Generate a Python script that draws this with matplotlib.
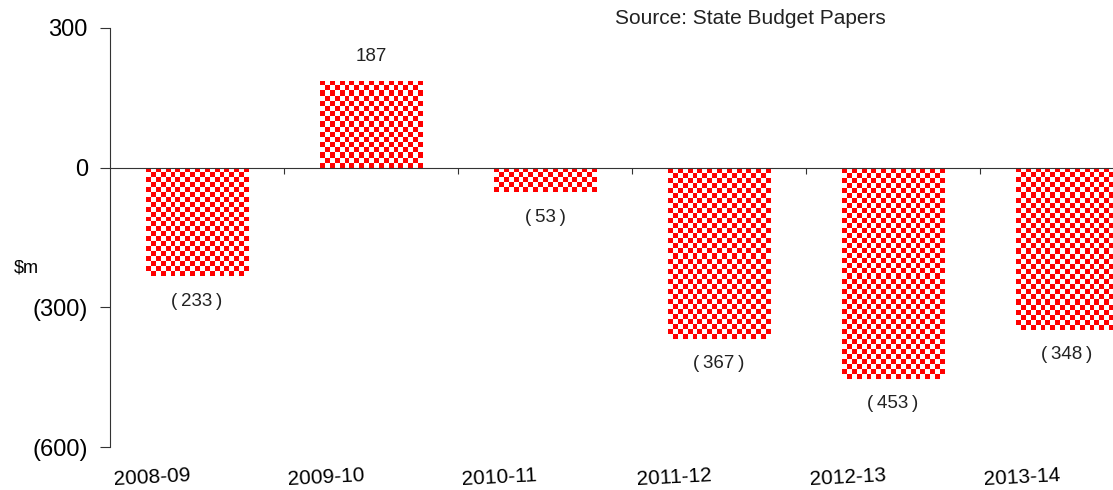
import numpy as np
import matplotlib
matplotlib.use("Agg")
import matplotlib.pyplot as plt
import matplotlib.transforms as mtransforms

plt.rcParams['font.family'] = ['Liberation Sans', 'DejaVu Sans']

# Daten
years = ['2008-09', '2009-10', '2010-11', '2011-12', '2012-13', '2013-14']
values = [-233, 187, -53, -367, -453, -348]
ytick_vals = [300, 0, -300, -600]
ytick_labels = ['300', '0', '(300)', '(600)']

W, H = 1113, 490
fig = plt.figure(figsize=(W / 100, H / 100), dpi=100)
ax = fig.add_axes([110 / W, 43 / H, (W - 110) / W, 419 / H])

x = np.arange(len(years))
bars = ax.bar(x, values, width=0.59, color='none', edgecolor='none')

# Schachbrettmuster in die Balken legen (ca. 5 px pro Feld)
px_x = 174.0
px_y = 419.0 / 900
for b in bars:
    x0, y0 = b.get_x(), b.get_y()
    w, h = b.get_width(), b.get_height()
    nx = max(1, int(round(w * px_x / 5)))
    ny = max(1, int(round(abs(h) * px_y / 5)))
    cb = (np.add.outer(np.arange(ny), np.arange(nx)) % 2).astype(float)
    img = np.ones((ny, nx, 3))
    img[cb == 0] = [1, 0, 0]
    im = ax.imshow(img, extent=[x0, x0 + w, min(y0, y0 + h), max(y0, y0 + h)],
                   aspect='auto', interpolation='nearest', zorder=2)
    im.set_clip_path(b)

ax.set_xlim(-0.5, -0.5 + (W - 110) / px_x)
ax.set_ylim(-600, 300)

for s in ['top', 'right']:
    ax.spines[s].set_visible(False)
ax.spines['bottom'].set_position(('data', 0))
ax.spines['bottom'].set_color('#333333')
ax.spines['bottom'].set_zorder(3)
ax.spines['left'].set_color('#333333')

ax.set_xticks(x[:-1] + 0.5)
ax.set_xticklabels([])
ax.tick_params(axis='x', length=4, direction='out', color='#333333')
ax.set_yticks(ytick_vals)
ax.set_yticklabels(ytick_labels, fontsize=17)
ax.tick_params(axis='y', length=7, pad=9, color='#333333')

# Kategorien unten (etwas nach links versetzt, leicht gedreht)
trans = mtransforms.blended_transform_factory(ax.transData, ax.transAxes)
for xi, lab in zip(x, years):
    ax.text(xi - 0.26, -0.072, lab, transform=trans, ha='center', va='center',
            fontsize=15, rotation=3, rotation_mode='anchor')

# Wertebeschriftungen
for xi, v in zip(x, values):
    txt = str(v) if v >= 0 else '(\u2009%d\u2009)' % abs(v)
    ax.annotate(txt, (xi, v), xytext=(0, 17.5 if v >= 0 else -18),
                textcoords='offset points', ha='center', va='center',
                fontsize=13.5, color='#222222')

fig.text(14 / W, 1 - 268 / H, '$m', fontsize=13, va='center', ha='left')
fig.text(750 / W, 1 - 19 / H, 'Source: State Budget Papers', fontsize=15,
         ha='center', va='center', color='#222222')

fig.savefig('out.png', dpi=100)
